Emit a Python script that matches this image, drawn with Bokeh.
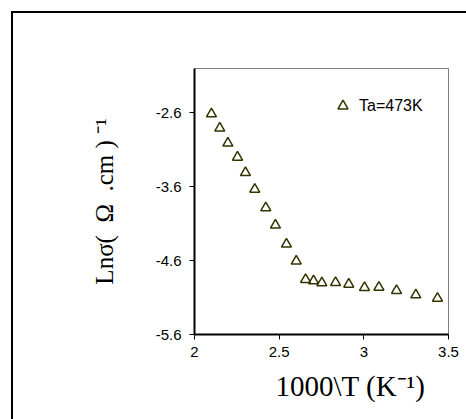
from bokeh.plotting import figure
from bokeh.models import Range1d, FixedTicker, Legend, LegendItem, InlineStyleSheet
from bokeh.embed import file_html
from bokeh.resources import INLINE

# ---- data ----
inv_T = [2.100, 2.149, 2.197, 2.254, 2.301, 2.356, 2.421, 2.478, 2.543, 2.601,
         2.656, 2.703, 2.752, 2.833, 2.911, 3.004, 3.089, 3.193, 3.307, 3.435]
ln_sigma = [-2.614, -2.807, -3.011, -3.201, -3.410, -3.635, -3.885, -4.120, -4.377, -4.608,
            -4.856, -4.875, -4.902, -4.897, -4.920, -4.965, -4.961, -5.006, -5.065, -5.110]
x_ticks = [2, 2.5, 3, 3.5]
x_tick_labels = ["2", "2.5", "3", "3.5"]
y_ticks = [-5.6, -4.6, -3.6, -2.6]
y_tick_labels = ["-5.6", "-4.6", "-3.6", "-2.6"]
series_label = "Ta=473K"
NB = "\u00a0"
x_title = NB * 8 + "1000\\T (K\u207b\u00b9)"
y_title = "Lnσ(" + NB + " Ω " + NB + ".cm ) \u207b\u00b9"

W, H = 466, 419
L, R, T, B = 194, 18, 68, 85

border_css = InlineStyleSheet(css="""
:host { position: relative; }
:host::after {
  content: ""; position: absolute; left: 11px; top: 11px;
  width: 455px; height: 408px; box-sizing: border-box;
  border-left: 2px solid black; border-top: 2px solid black;
  pointer-events: none;
}
""")

p = figure(width=W, height=H, output_backend="svg", toolbar_location=None,
           x_range=Range1d(2, 3.5), y_range=Range1d(-5.6, -2.0),
           min_border_left=L, min_border_right=R, min_border_top=T, min_border_bottom=B,
           stylesheets=[border_css])
p.background_fill_color = "white"
p.border_fill_color = "white"
p.outline_line_color = "#808080"
p.outline_line_width = 1
p.grid.visible = False

for ax in (p.xaxis[0], p.yaxis[0]):
    ax.axis_line_color = "black"
    ax.axis_line_width = 2
    ax.major_tick_line_color = "black"
    ax.major_tick_line_width = 1
    ax.major_tick_out = 5
    ax.major_tick_in = 0
    ax.minor_tick_line_color = None
    ax.major_label_text_font = "Liberation Sans"
    ax.major_label_text_font_size = "15px"
    ax.major_label_text_color = "black"
    ax.axis_label_text_font = "Liberation Serif"
    ax.axis_label_text_font_style = "normal"
    ax.axis_label_text_color = "black"

p.xaxis[0].ticker = FixedTicker(ticks=x_ticks)
p.xaxis[0].major_label_overrides = dict(zip(x_ticks, x_tick_labels))
p.xaxis[0].major_label_standoff = 7
p.xaxis[0].axis_label = x_title
p.xaxis[0].axis_label_text_font_size = "29px"
p.xaxis[0].axis_label_standoff = 10

p.yaxis[0].ticker = FixedTicker(ticks=y_ticks)
p.yaxis[0].major_label_overrides = dict(zip(y_ticks, y_tick_labels))
p.yaxis[0].major_label_standoff = 8
p.yaxis[0].axis_label = y_title
p.yaxis[0].axis_label_text_font_size = "25px"
p.yaxis[0].axis_label_standoff = 35

r = p.scatter(inv_T, ln_sigma, marker="triangle", size=10, line_color="#333300",
              line_width=1.5, fill_color=None)

legend = Legend(items=[LegendItem(label=series_label, renderers=[r])],
                location=(136, 216), border_line_alpha=0, background_fill_alpha=0,
                padding=0, margin=0, glyph_width=25, glyph_height=25, label_height=25,
                label_standoff=4, label_text_font="Liberation Sans",
                label_text_font_size="16px", label_text_color="black")
p.add_layout(legend, "center")

open("out.html", "w").write(file_html(p, INLINE))
